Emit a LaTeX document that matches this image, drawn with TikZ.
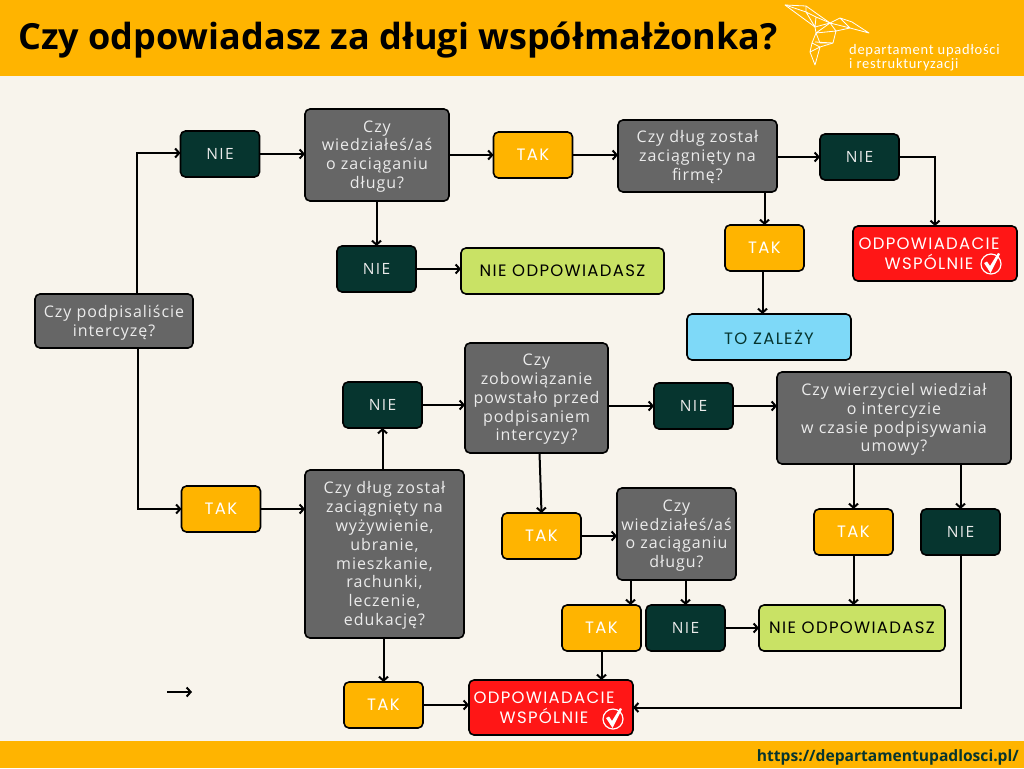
\documentclass[tikz,border=0pt]{standalone}
\usepackage{fontspec}
\usepackage{tikz}
\usetikzlibrary{arrows.meta}
\setmainfont{Open Sans}
\newfontfamily\labelfont[LetterSpace=8]{Poppins}
\newfontfamily\questfont[LetterSpace=6]{Open Sans}
\newfontfamily\niefont[LetterSpace=9]{Open Sans}
\newfontfamily\logofont[LetterSpace=5]{Carlito}
\definecolor{bgcol}{HTML}{F8F4EC}
\definecolor{takcol}{HTML}{FFB400}
\definecolor{niecol}{HTML}{06352F}
\definecolor{questcol}{HTML}{666666}
\definecolor{nodcol}{HTML}{C9E265}
\definecolor{tocol}{HTML}{7ED9F8}
\definecolor{redcol}{HTML}{FF1616}
\definecolor{urlcol}{HTML}{06352F}
\tikzset{
  box/.style={draw=black,line width=1.6pt,rounded corners=5pt,inner sep=0pt,outer sep=0pt,align=center},
  quest/.style={box,fill=questcol,text=white!92!black,font=\questfont\fontsize{16}{18.8}\selectfont},
  tak/.style={box,fill=takcol,text=white,minimum width=79pt,minimum height=46pt,font=\labelfont\fontsize{16.5}{18}\selectfont},
  nie/.style={tak,fill=niecol,text=white!92!black,font=\niefont\fontsize{15.5}{18}\selectfont},
  nod/.style={box,fill=nodcol,text=black,minimum height=46pt,font=\labelfont\fontsize{16.5}{18}\selectfont},
  toz/.style={nod,fill=tocol,text=niecol},
  odp/.style={box,fill=redcol,text=white,font=\labelfont\fontsize{16.5}{19.5}\selectfont},
  arr/.style={draw=black,line width=2pt,-{Straight Barb[length=4pt,width=9pt]}},
  bird/.style={draw=white,line width=0.8pt,line join=round}
}
\newcommand{\dn}{\\[-18pt]}
\begin{document}
\begin{tikzpicture}[x=1pt,y=-1pt]
\useasboundingbox (0,0) rectangle (1024,768);
\fill [bgcol] (0,0) rectangle (1024,768);
\fill [takcol] (0,0) rectangle (1024,76);
\fill [takcol] (0,741) rectangle (1024,768);
\node (title) [anchor=west,inner sep=0pt,font=\bfseries\fontsize{36}{40}\selectfont] at (18,40) {Czy odpowiadasz za długi współmałżonka?};
\node (logotext) [anchor=north west,inner sep=0pt,align=left,text=white,font=\logofont\fontsize{14.5}{14}\selectfont] at (849,44) {departament upadłości\\i restrukturyzacji};
\node (url) [anchor=east,inner sep=0pt,text=urlcol,font=\bfseries\fontsize{15.6}{16}\selectfont] at (1019,757) {https://departamentupadlosci.pl/};
% hummingbird
\draw [bird] (785,5) -- (806,6) -- (830,23) -- (815,27) -- cycle;
\draw [bird] (785,5) -- (806,12) -- (816,17) -- (830,23) (806,6) -- (806,12) -- (815,27) -- (816,17);
\draw [bird] (830,23) -- (840,18) -- (852,22) -- (869,33) -- (850,28) -- (836,31) -- (830,23) -- (850,28) -- (840,18);
\draw [bird] (815,27) -- (816,33) -- (812,43) (830,23) -- (816,33) -- (836,31) -- (833,43) -- (815,42) (816,33) -- (820,43) -- (833,43);
\draw [bird] (812,43) -- (810,52) -- (815,65) -- (820,47) -- (812,43) (810,52) -- (820,47) -- (833,43);
% first row
\node (qSign) [quest,minimum width=158pt,minimum height=54pt] at (114,321) {Czy podpisaliście\\intercyzę?\dn};
\node (nieA) [nie] at (220,154) {NIE};
\node (qKnowA) [quest,minimum width=144pt,minimum height=92pt] at (377,155) {Czy\\wiedziałeś/aś\\o zaciąganiu\\długu?\dn};
\node (takA) [tak] at (533,155) {TAK};
\node (qFirm) [quest,minimum width=159pt,minimum height=72pt] at (697.5,156) {Czy dług został\\zaciągnięty na\\firmę?\dn};
\node (nieB) [nie] at (859.5,157) {NIE};
\node (odpA) [odp,minimum width=164pt,minimum height=55pt] at (935,253.5) {ODPOWIADACIE\hspace*{12pt}\\WSPÓLNIE\hspace*{12pt}};
\node (takB) [tak] at (764.5,248) {TAK};
\node (toZal) [toz,minimum width=164pt] at (769,337) {TO ZALEŻY};
\node (nieC) [nie] at (376.5,269) {NIE};
\node (nodA) [nod,minimum width=203pt] at (562.5,271) {NIE ODPOWIADASZ};
% second row
\node (takD) [tak] at (221,509) {TAK};
\node (qFood) [quest,minimum width=159pt,minimum height=168pt] at (384.5,554) {Czy dług został\\zaciągnięty na\\wyżywienie,\\ubranie,\\mieszkanie,\\rachunki,\\leczenie,\\edukację?\dn};
\node (nieD) [nie] at (382.5,405) {NIE};
\node (qDuty) [quest,minimum width=143pt,minimum height=110pt] at (536.5,398) {Czy\\zobowiązanie\\powstało przed\\podpisaniem\\intercyzy?\dn};
\node (nieE) [nie] at (693.5,406) {NIE};
\node (qCred) [quest,minimum width=234pt,minimum height=92pt] at (894,418) {Czy wierzyciel wiedział\\o intercyzie\\w czasie podpisywania\\umowy?\dn};
\node (takE) [tak] at (541.5,536) {TAK};
\node (qKnowB) [quest,minimum width=119pt,minimum height=92pt] at (676.5,534) {Czy\\wiedziałeś/aś\\o zaciąganiu\\długu?\dn};
\node (takF) [tak] at (853.5,532) {TAK};
\node (nieF) [nie] at (960.5,532) {NIE};
\node (takG) [tak] at (601.5,628) {TAK};
\node (nieG) [nie] at (685.5,628) {NIE};
\node (nodB) [nod,minimum width=186pt] at (852,628) {NIE ODPOWIADASZ};
\node (takH) [tak] at (383.5,705) {TAK};
\node (odpB) [odp,minimum width=164pt,minimum height=55pt] at (551,707.5) {ODPOWIADACIE\hspace*{14pt}\\WSPÓLNIE\hspace*{14pt}};
% check marks
\draw [white,line width=1.2pt] (991,264) circle (10);
\fill [white] (984,263) -- (987,261.5) -- (990,266) -- (998,253) -- (1000,254) -- (990.5,273) -- cycle;
\draw [white,line width=1.2pt] (613,719) circle (10);
\fill [white] (606,718) -- (609,716.5) -- (612,721) -- (620,708) -- (622,709) -- (612.5,728) -- cycle;
% arrows
\draw [arr] ([xshift=23pt]qSign.north) |- ([yshift=1pt]nieA.west);
\draw [arr] ([xshift=24pt]qSign.south) |- (takD.west);
\draw [arr] (nieA.east) -- (nieA.east -| qKnowA.west);
\draw [arr] (qKnowA.east |- takA.west) -- (takA.west);
\draw [arr] (takA.east) -- (takA.east -| qFirm.west);
\draw [arr] (qFirm.east |- nieB.west) -- (nieB.west);
\draw [arr] (nieB.east) -| (odpA.north);
\draw [arr] (qFirm.south -| takB.north) -- (takB.north);
\draw [arr] ([xshift=-2pt]takB.south) -- ([xshift=-2pt]takB.south |- toZal.north);
\draw [arr] (qKnowA.south -| nieC.north) -- (nieC.north);
\draw [arr] (nieC.east) -- (nieC.east -| nodA.west);
\draw [arr] (takD.east) -- (takD.east -| qFood.west);
\draw [arr] (qFood.north -| nieD.south) -- (nieD.south);
\draw [arr] (nieD.east) -- (nieD.east -| qDuty.west);
\draw [arr] (qDuty.east |- nieE.west) -- (nieE.west);
\draw [arr] (nieE.east) -- (nieE.east -| qCred.west);
\draw [arr] ([xshift=3pt]qDuty.south) -- (takE.north);
\draw [arr] (takE.east) -- (takE.east -| qKnowB.west);
\draw [arr] (qCred.south -| takF.north) -- (takF.north);
\draw [arr] (qCred.south -| nieF.north) -- (nieF.north);
\draw [arr] (takF.south) -- (takF.south |- nodB.north);
\draw [arr] ([xshift=29pt]takG.north |- qKnowB.south) -- ([xshift=29pt]takG.north);
\draw [arr] (qKnowB.south -| nieG.north) -- (nieG.north);
\draw [arr] (nieG.east) -- (nieG.east -| nodB.west);
\draw [arr] (takG.south) -- (takG.south |- odpB.north);
\draw [arr] (qFood.south -| takH.north) -- (takH.north);
\draw [arr] (takH.east) -- (takH.east -| odpB.west);
\draw [arr] (nieF.south) |- (odpB.east);
\coordinate (strayA) at (167,692);
\coordinate (strayB) at (192,692);
\draw [arr] (strayA) -- (strayB);
\end{tikzpicture}
\end{document}
